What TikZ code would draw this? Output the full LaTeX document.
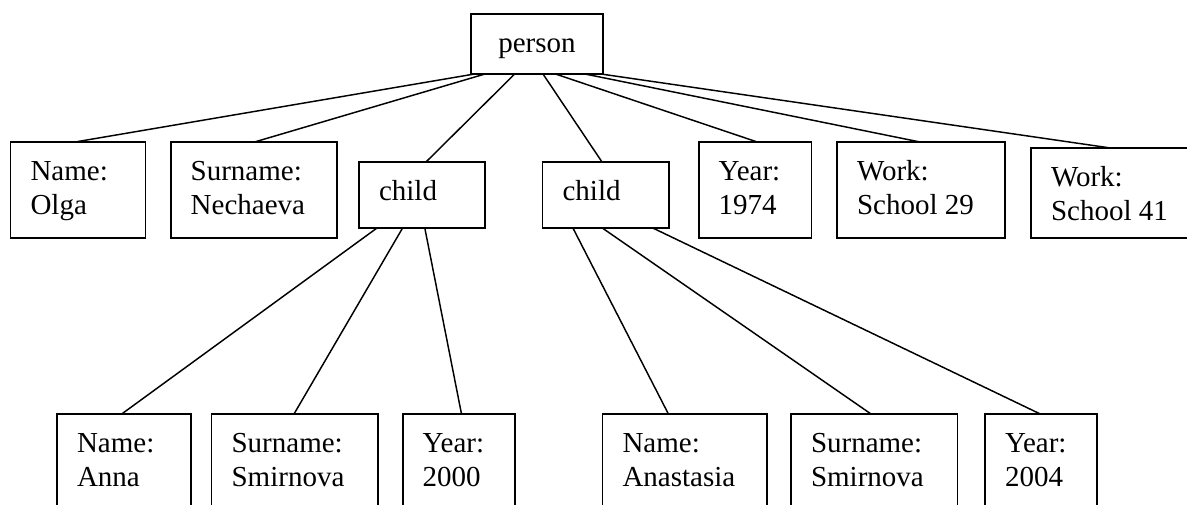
\documentclass[tikz,border=0pt]{standalone}
\usepackage{fontspec}
\setmainfont{Liberation Serif}
\newcommand\boxtext[2]{\parbox[t]{#1}{\raggedright #2}}
\begin{document}
\begin{tikzpicture}[x=0.75pt,y=-0.75pt,
  box/.style={draw, line width=1.2pt, outer sep=0pt, inner xsep=15pt, inner ysep=0pt,
    text height=28.5pt, anchor=north west, font=\fontsize{21.75}{25.5}\selectfont},
  tall/.style={box, text depth=43.5pt},
  mid/.style={box, text depth=39pt},
  short/.style={box, text depth=21pt},
  top/.style={box, text depth=16.5pt},
  link/.style={line width=1.1pt}]
\useasboundingbox (0,0) rectangle (1187,504);

% root
\node[top] (person) at (471,14) {\parbox[t]{69pt}{\centering person}};

% first level
\node[tall]  (olga)  at (10.5,142)  {\boxtext{71.25pt}{Name:\\Olga}};
\node[tall]  (nech)  at (170.7,142) {\boxtext{94.7pt}{Surname:\\Nechaeva}};
\node[short] (c1)    at (359,162)   {\boxtext{64.5pt}{child}};
\node[short] (c2)    at (542.6,162) {\boxtext{65pt}{child}};
\node[tall]  (y1974) at (698.7,142) {\boxtext{54.7pt}{Year:\\1974}};
\node[tall]  (w29)   at (837,142)   {\boxtext{96.2pt}{Work:\\School 29}};
\node[mid]   (w41)   at (1031,148)  {\boxtext{90.75pt}{Work:\\School 41}};

% second level
\node[tall] (anna)  at (57,414)    {\boxtext{70.7pt}{Name:\\Anna}};
\node[tall] (smir1) at (211.6,414) {\boxtext{94.6pt}{Surname:\\Smirnova}};
\node[tall] (y2000) at (402.7,414) {\boxtext{54.2pt}{Year:\\2000}};
\node[tall] (anas)  at (602.5,414) {\boxtext{93.4pt}{Name:\\Anastasia}};
\node[tall] (smir2) at (791,414)   {\boxtext{94.8pt}{Surname:\\Smirnova}};
\node[tall] (y2004) at (985,414)   {\boxtext{54.2pt}{Year:\\2004}};

% connectors from the root
\draw[link] ([shift={(3.5,0)}]person.south west)  -- ([shift={(64.5,0)}]olga.north west);
\draw[link] ([shift={(14,0)}]person.south west)   -- ([shift={(83.8,0)}]nech.north west);
\draw[link] ([shift={(43.7,0)}]person.south west) -- ([shift={(67,0)}]c1.north west);
\draw[link] ([shift={(72,0)}]person.south west)   -- ([shift={(59.4,0)}]c2.north west);
\draw[link] ([shift={(84.5,0)}]person.south west) -- ([shift={(58.6,0)}]y1974.north west);
\draw[link] ([shift={(114,0)}]person.south west)  -- ([shift={(83,0)}]w29.north west);
\draw[link] ([shift={(130,0)}]person.south west)  -- ([shift={(79.5,0)}]w41.north west);

% connectors from the first child
\draw[link] ([shift={(18,0)}]c1.south west)   -- ([shift={(64.7,0)}]anna.north west);
\draw[link] ([shift={(43.6,0)}]c1.south west) -- ([shift={(82.4,0)}]smir1.north west);
\draw[link] ([shift={(65.8,0)}]c1.south west) -- ([shift={(58.8,0)}]y2000.north west);

% connectors from the second child
\draw[link] ([shift={(30.3,0)}]c2.south west)  -- ([shift={(65.9,0)}]anas.north west);
\draw[link] ([shift={(59.7,0)}]c2.south west)  -- ([shift={(80,0)}]smir2.north west);
\draw[link] ([shift={(110.2,0)}]c2.south west) -- ([shift={(55.3,0)}]y2004.north west);
\end{tikzpicture}
\end{document}
